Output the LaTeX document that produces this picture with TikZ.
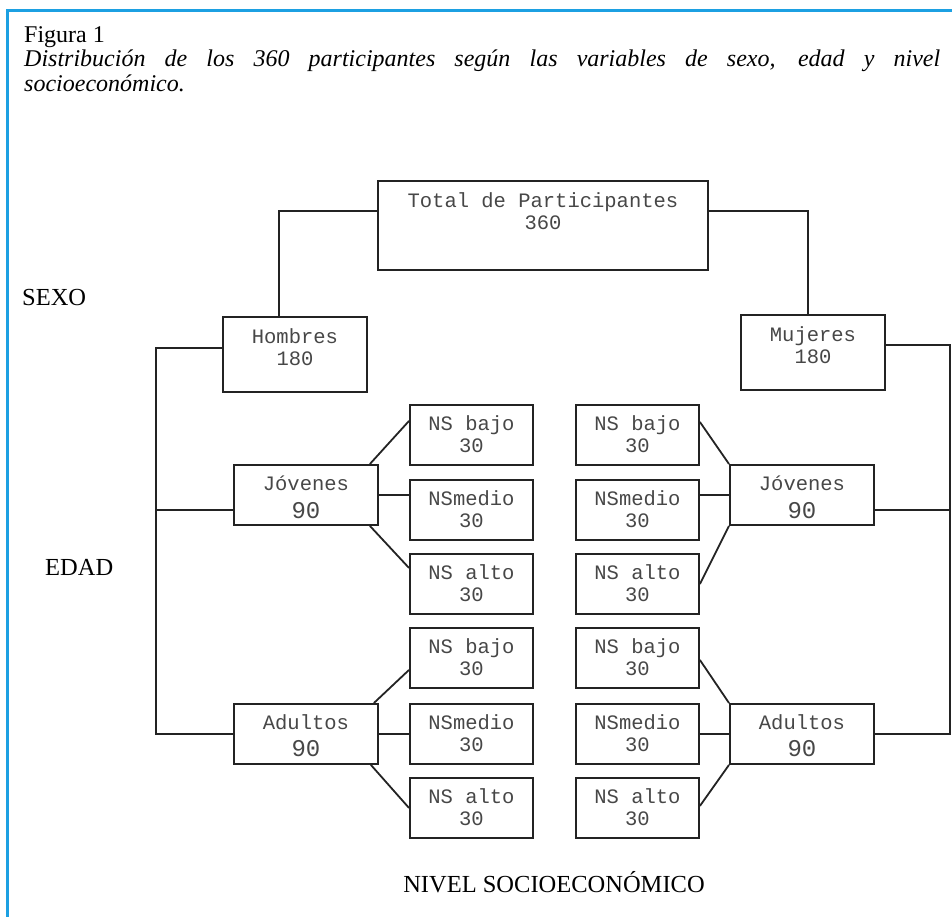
\documentclass[tikz,border=0pt]{standalone}
\usepackage{fontspec}
\setmainfont{Liberation Serif}
\newfontfamily\monofam{Liberation Mono}
\usetikzlibrary{calc}
\definecolor{marco}{RGB}{28,160,226}
\definecolor{trazo}{RGB}{35,35,35}
\newcommand{\dosl}[3][0pt]{\begin{tabular}[t]{@{}c@{}}#2\\[#1]#3\end{tabular}}
\newcommand{\cifra}[1]{{\fontsize{24}{26}\selectfont #1}}

\begin{document}
\begin{tikzpicture}[
  x=1pt, y=-1pt,
  caja/.style={
    draw=trazo, line width=1.9pt, inner sep=0pt, anchor=north west,
    font=\monofam\fontsize{20.5}{22}\selectfont, text=black!72,
    text height=26pt
  },
  total/.style={caja, minimum width=330pt, text height=27pt, text depth=62pt},
  sexobox/.style={caja, minimum width=144pt, text height=27pt, text depth=48pt},
  edadbox/.style={caja, minimum width=144pt, text depth=34pt},
  nsbox/.style={caja, minimum width=123pt, text depth=34pt},
  etiq/.style={inner sep=0pt, font=\fontsize{24.5}{26}\selectfont},
  linea/.style={draw=trazo, line width=1.8pt},
]
\useasboundingbox (0,0) rectangle (952,917);
\draw[marco, line width=3pt] (7,917) -- (7,11) -- (952,11);

% titulo
\node[anchor=base west, inner sep=0pt, font=\fontsize{24}{24.5}\selectfont] (fig) at (24,43) {Figura 1};
\node[anchor=base west, inner sep=0pt, font=\fontsize{24}{24.5}\selectfont\itshape] (leyenda) at (24,67)
  {\parbox[t]{916pt}{Distribución de los 360 participantes según las variables de sexo, edad y nivel\linebreak socioeconómico.}};

% etiquetas
\node[etiq, anchor=base west] (lsexo) at (22,305) {SEXO};
\node[etiq, anchor=base west] (ledad) at (45,575) {EDAD};
\node[etiq, anchor=base] (lnivel) at (554,892) {NIVEL SOCIOECONÓMICO};

% cajas
\node[total] (tot) at (377,180) {\dosl{Total de Participantes}{360}};
\node[sexobox] (hom) at (222,316) {\dosl{Hombres}{180}};
\node[sexobox] (muj) at (740,314) {\dosl{Mujeres}{180}};

\node[edadbox] (jovI) at (233,464) {\dosl[5pt]{Jóvenes}{\cifra{90}}};
\node[edadbox] (adlI) at (233,703) {\dosl[4pt]{Adultos}{\cifra{90}}};
\node[edadbox] (jovD) at (729,464) {\dosl[5pt]{Jóvenes}{\cifra{90}}};
\node[edadbox] (adlD) at (729,703) {\dosl[4pt]{Adultos}{\cifra{90}}};

\node[nsbox] (bajoJI) at (409,404) {\dosl{NS bajo}{30}};
\node[nsbox] (medJI)  at (409,479) {\dosl{NSmedio}{30}};
\node[nsbox] (altJI)  at (409,553) {\dosl{NS alto}{30}};
\node[nsbox] (bajoAI) at (409,627) {\dosl{NS bajo}{30}};
\node[nsbox] (medAI)  at (409,703) {\dosl{NSmedio}{30}};
\node[nsbox] (altAI)  at (409,777) {\dosl{NS alto}{30}};

\node[nsbox] (bajoJD) at (575,404) {\dosl{NS bajo}{30}};
\node[nsbox] (medJD)  at (575,479) {\dosl{NSmedio}{30}};
\node[nsbox] (altJD)  at (575,553) {\dosl{NS alto}{30}};
\node[nsbox] (bajoAD) at (575,627) {\dosl{NS bajo}{30}};
\node[nsbox] (medAD)  at (575,703) {\dosl{NSmedio}{30}};
\node[nsbox] (altAD)  at (575,777) {\dosl{NS alto}{30}};

\coordinate (espI) at (156,0);
\coordinate (espD) at (950,0);

% sexo
\draw[linea] ([yshift=14.5pt]tot.west) -| ([xshift=-16pt]hom.north);
\draw[linea] ([yshift=14.5pt]tot.east) -| ([xshift=-5pt]muj.north);

% edad
\draw[linea] ([yshift=6.5pt]hom.west) -| (espI |- adlI.west) -- (adlI.west);
\draw[linea] ([yshift=-15pt]jovI.west) -- ([yshift=-15pt]jovI.west -| espI);
\draw[linea] ([yshift=7.5pt]muj.east) -| (espD |- adlD.east) -- (adlD.east);
\draw[linea] ([yshift=-15pt]jovD.east) -- ([yshift=-15pt]jovD.east -| espD);

% nivel socioeconomico
\draw[linea] ([xshift=-9pt]jovI.north east) -- ([yshift=14pt]bajoJI.west);
\draw[linea] (jovI.east) -- (jovI.east -| medJI.west);
\draw[linea] ([xshift=-9pt]jovI.south east) -- ([yshift=16pt]altJI.west);
\draw[linea] ([xshift=-5pt]adlI.north east) -- ([yshift=-12pt]bajoAI.west);
\draw[linea] (adlI.east) -- (adlI.east -| medAI.west);
\draw[linea] ([xshift=-8pt]adlI.south east) -- (altAI.west);

\draw[linea] ([yshift=13pt]bajoJD.east) -- (jovD.north west);
\draw[linea] (jovD.west -| medJD.east) -- (jovD.west);
\draw[linea] (altJD.east) -- (jovD.south west);
\draw[linea] ([yshift=-2pt]bajoAD.east) -- (adlD.north west);
\draw[linea] (adlD.west -| medAD.east) -- (adlD.west);
\draw[linea] ([yshift=2pt]altAD.east) -- (adlD.south west);

\end{tikzpicture}
\end{document}
